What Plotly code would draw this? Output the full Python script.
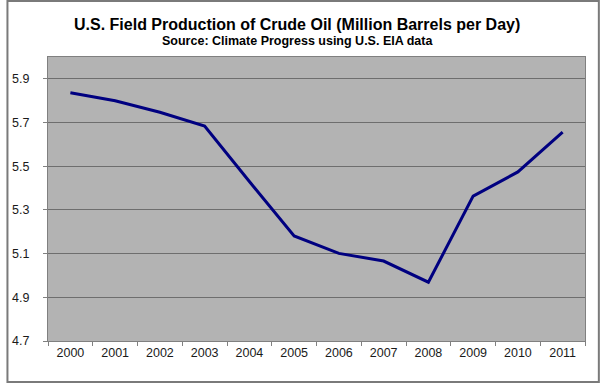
import plotly.graph_objects as go

years = ["2000", "2001", "2002", "2003", "2004", "2005", "2006", "2007", "2008", "2009", "2010", "2011"]
production = [5.836, 5.80, 5.747, 5.684, 5.43, 5.181, 5.101, 5.066, 4.969, 5.363, 5.474, 5.656]
y_ticks = [4.7, 4.9, 5.1, 5.3, 5.5, 5.7, 5.9]

title = "U.S. Field Production of Crude Oil (Million Barrels per Day)"
subtitle = "Source: Climate Progress using U.S. EIA data"

W, H = 600, 383
ML, MR, MT, MB = 42, 15, 57, 42
PW, PH = W - ML - MR, H - MT - MB

fig = go.Figure()
fig.add_trace(go.Scatter(
    x=years, y=production, mode="lines",
    line=dict(color="#000080", width=3),
    hoverinfo="x+y",
))

font_family = "Liberation Sans, Arial, sans-serif"

fig.update_layout(
    width=W, height=H,
    margin=dict(l=ML, r=MR, t=MT, b=MB),
    paper_bgcolor="white",
    plot_bgcolor="#B3B3B3",
    showlegend=False,
    font=dict(family=font_family, size=12, color="#1a1a1a"),
    xaxis=dict(
        type="category", tickson="boundaries", ticks="outside",
        range=[-0.5, 11.5],
        ticklen=4, tickcolor="#808080", tickwidth=1,
        showline=True, linecolor="#808080", linewidth=1, mirror=True,
        showgrid=False, tickfont=dict(size=12.5),
    ),
    yaxis=dict(
        range=[4.7, 6.0], tickvals=y_ticks, tickformat=".1f",
        ticks="outside", ticklen=4, tickcolor="#808080",
        ticklabelstandoff=11,
        showline=True, linecolor="#808080", linewidth=1, mirror=True,
        showgrid=True, gridcolor="#6e6e6e", gridwidth=1,
        zeroline=False, tickfont=dict(size=12.5),
    ),
    annotations=[
        dict(text="<b>" + title + "</b>", xref="paper", yref="paper",
             x=(294 - ML) / PW, y=1 + (MT - 25) / PH, xanchor="center", yanchor="middle",
             showarrow=False, font=dict(size=16, color="black")),
        dict(text="<b>" + subtitle + "</b>", xref="paper", yref="paper",
             x=(294 - ML) / PW, y=1 + (MT - 41.5) / PH, xanchor="center", yanchor="middle",
             showarrow=False, font=dict(size=12.5, color="black")),
    ],
    shapes=[
        dict(type="rect", xref="paper", yref="paper",
             x0=-(ML - 1) / PW, x1=1 + (MR - 1) / PW,
             y0=-(MB - 1) / PH, y1=1 + (MT - 1) / PH,
             line=dict(color="#7a7a7a", width=2), fillcolor="rgba(0,0,0,0)", layer="above"),
    ],
)

fig.write_html(
    "out.html",
    config={"displayModeBar": False},
    post_script="document.body.style.margin='0';document.body.style.overflow='hidden';",
)
